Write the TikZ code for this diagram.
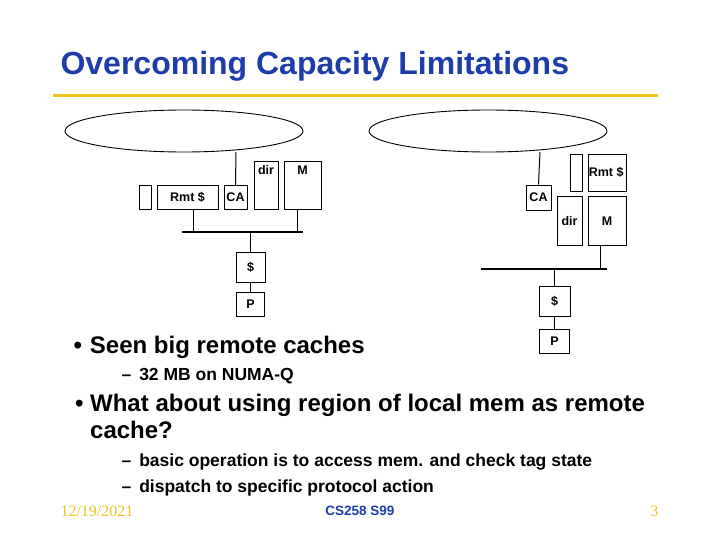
\documentclass[tikz,border=0pt]{standalone}
\usepackage{fontspec}
\setmainfont{Liberation Sans}
\newfontfamily\serifft{Liberation Serif}
\definecolor{titleblue}{RGB}{30,60,170}
\definecolor{gold}{RGB}{240,195,30}
\tikzset{
  blk/.style={draw, line width=0.9pt, inner sep=0pt, font=\bfseries\fontsize{12.5}{14}\selectfont},
  lbl/.style={font=\bfseries\fontsize{12.5}{14}\selectfont},
  ring/.style={draw, line width=0.9pt},
  wire/.style={line width=1.6pt},
  bul/.style={anchor=west, font=\bfseries\fontsize{24}{27}\selectfont},
  sub/.style={anchor=west, font=\bfseries\fontsize{17.5}{20}\selectfont}
}
\begin{document}
\begin{tikzpicture}[x=1pt,y=-1pt]
\useasboundingbox (0,0) rectangle (720,540);
% title
\node[anchor=west, text=titleblue, font=\bfseries\fontsize{32}{36}\selectfont] (title) at (57,66) {Overcoming Capacity Limitations};
\draw[gold, line width=3pt] (53,96) -- (658,96);
% left node
\draw[ring] (184,131) ellipse (119 and 21);
\node[blk, minimum width=12, minimum height=24] (lspare) at (145,197.5) {};
\node[blk, minimum width=61, minimum height=24] (lrmt) at (187.5,197.5) {Rmt \$};
\node[blk, minimum width=23, minimum height=24] (lca) at (235.5,197.5) {CA};
\node[blk, minimum width=24, minimum height=48, anchor=north] (ldir) at (266,161) {};
\node[lbl, anchor=north] at (ldir.north) {\strut dir};
\node[blk, minimum width=37, minimum height=48, anchor=north] (lm) at (302.5,161) {};
\node[lbl, anchor=north] at (lm.north) {\strut M};
\node[blk, minimum width=29, minimum height=30] (lc) at (250.5,267) {\$};
\node[blk, minimum width=28, minimum height=24] (lp) at (250.5,304) {P};
\coordinate (lbusw) at (182,232);
\coordinate (lbuse) at (303,232);
\draw[wire] (lbusw) -- (lbuse);
\draw[line width=1pt] (lca.north) -- (236,152);
\draw[line width=1pt] (193,209.5) -- (193,232);
\draw[line width=1pt] (297,209) -- (297,232);
\draw[line width=1pt] (lc.north) -- (250.5,232);
\draw[line width=1pt] (lc) -- (lp);
% right node
\draw[ring] (488,131) ellipse (119 and 21);
\node[blk, minimum width=25, minimum height=25] (rca) at (538.5,197.5) {CA};
\node[blk, minimum width=12, minimum height=37] (rspare) at (576,172.5) {};
\node[blk, minimum width=38, minimum height=37] (rrmt) at (607,172.5) {};
\node[lbl, anchor=west, inner sep=1pt] at (rrmt.west) {Rmt \$};
\node[blk, minimum width=25, minimum height=49] (rdir) at (569.5,221) {dir};
\node[blk, minimum width=38, minimum height=49] (rm) at (607,221) {M};
\node[blk, minimum width=31, minimum height=30] (rc) at (554.5,301) {\$};
\node[blk, minimum width=30, minimum height=24] (rp) at (554.5,341) {P};
\coordinate (rbusw) at (481,269);
\coordinate (rbuse) at (607,269);
\draw[wire] (rbusw) -- (rbuse);
\draw[line width=1pt] (rca.north) -- (540,152);
\draw[line width=1pt] (rm.south -| 600,0) -- (600,269);
\draw[line width=1pt] (554.5,269) -- (rc.north);
\draw[line width=1pt] (rc) -- (rp);
% bullets
\node[bul] (b1) at (70,347) {•\hspace{8pt}Seen big remote caches};
\node[sub] (b1a) at (118,376) {–\hspace{8pt}32 MB on NUMA-Q};
\node[bul, anchor=north west, inner sep=0pt] (b2) at (75,394) {\parbox[t]{15pt}{•}\parbox[t]{565pt}{\raggedright What about using region of local mem as remote cache?}};
\node[sub] (b2a) at (118,462) {–\hspace{8pt}basic operation is to access mem. and check tag state};
\node[sub] (b2b) at (118,488) {–\hspace{8pt}dispatch to specific protocol action};
% footer
\node[anchor=west, text=gold, font=\serifft\fontsize{16}{18}\selectfont] (date) at (57,511) {12/19/2021};
\node[text=titleblue, font=\bfseries\fontsize{13.5}{15}\selectfont] (course) at (360,511) {CS258 S99};
\node[anchor=east, text=gold, font=\serifft\fontsize{16}{18}\selectfont] (page) at (662,511) {3};
\end{tikzpicture}
\end{document}
